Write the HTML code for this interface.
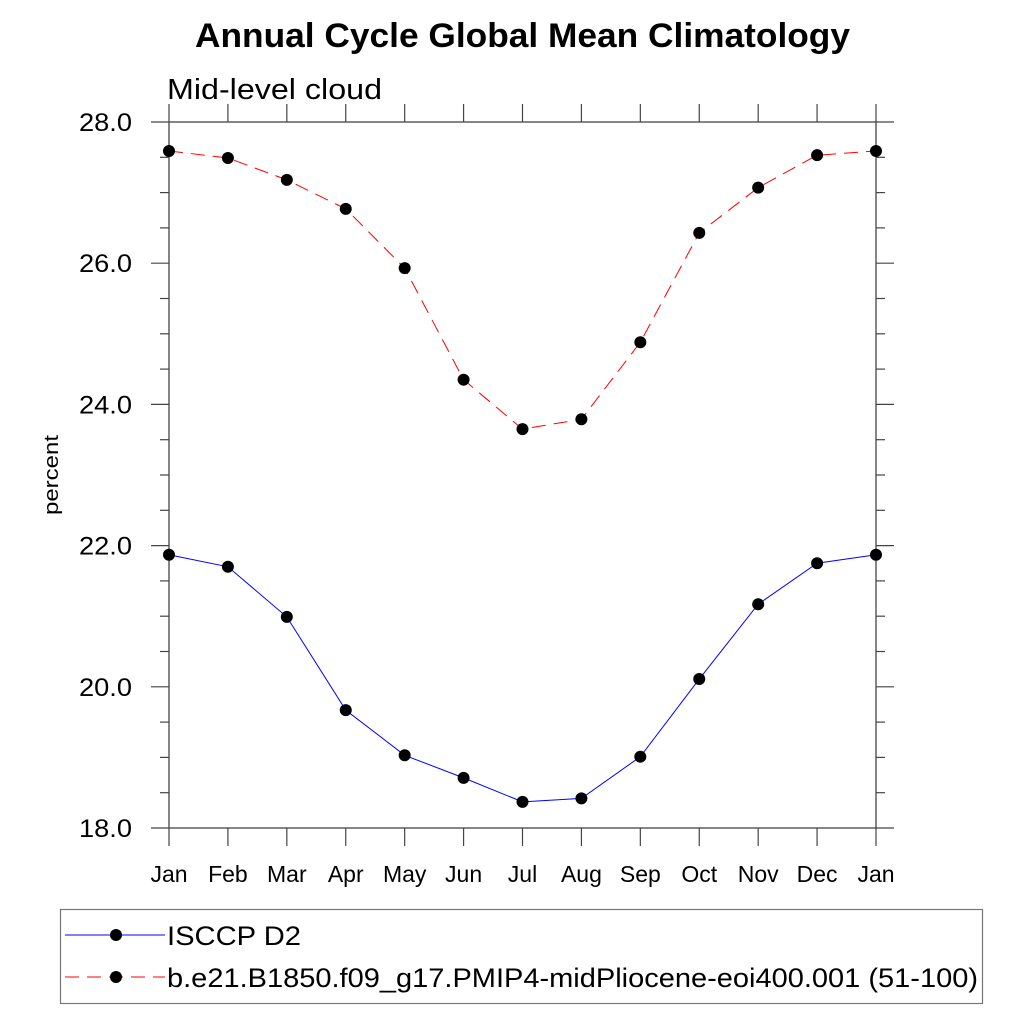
<!DOCTYPE html>
<html><head><meta charset="utf-8"><style>
body{margin:0;background:#fff;}
svg{display:block;font-family:"Liberation Sans",sans-serif;}
</style></head><body>
<svg id="chart" width="1024" height="1024">
<text x="195" y="47" font-size="34" font-weight="bold" textLength="655" lengthAdjust="spacingAndGlyphs">Annual Cycle Global Mean Climatology</text>
<text x="167" y="99" font-size="29" textLength="215" lengthAdjust="spacingAndGlyphs">Mid-level cloud</text>
<text transform="translate(58,475) rotate(-90)" text-anchor="middle" font-size="20" textLength="80" lengthAdjust="spacingAndGlyphs">percent</text>
<g id="axes"></g>
<g id="series"></g>
<rect x="60.5" y="909.5" width="922" height="94" fill="none" stroke="#777" stroke-width="1.2"/>
<g>
<line x1="65" y1="935" x2="165" y2="935" stroke="#0000ff" stroke-width="1"/>
<circle cx="116" cy="935" r="6" fill="#000"/>
<text x="167" y="945" font-size="27" textLength="134" lengthAdjust="spacingAndGlyphs">ISCCP D2</text>
</g>
<g>
<line x1="65" y1="977" x2="165" y2="977" stroke="#ff0000" stroke-width="1" stroke-dasharray="14,8"/>
<circle cx="116" cy="977" r="6" fill="#000"/>
<text x="167" y="987" font-size="27" textLength="811" lengthAdjust="spacingAndGlyphs">b.e21.B1850.f09_g17.PMIP4-midPliocene-eoi400.001 (51-100)</text>
</g>
</svg>
<script>
const months=["Jan","Feb","Mar","Apr","May","Jun","Jul","Aug","Sep","Oct","Nov","Dec","Jan"];
const isccp=[21.87,21.70,20.99,19.67,19.03,18.71,18.37,18.42,19.01,20.11,21.17,21.75,21.87];
const model=[27.59,27.49,27.18,26.77,25.93,24.35,23.65,23.79,24.88,26.43,27.07,27.53,27.59];
const yTicks=[18,20,22,24,26,28];
const yTickLabels=["18.0","20.0","22.0","24.0","26.0","28.0"];
const X0=169,X1=876,Y0=828,Y1=122,ymin=18,ymax=28;
const xs=i=>X0+(X1-X0)*i/(months.length-1);
const ys=v=>Y0-(Y0-Y1)*(v-ymin)/(ymax-ymin);
const NS="http://www.w3.org/2000/svg";
function mk(tag,attrs,parent){const e=document.createElementNS(NS,tag);for(const k in attrs)e.setAttribute(k,attrs[k]);parent.appendChild(e);return e;}
const ax=document.getElementById('axes');
const frame=mk('rect',{x:X0,y:Y1,width:X1-X0,height:Y0-Y1,fill:'none',stroke:'#444','stroke-width':1.3},ax);


for(let v=18;v<=28.001;v+=0.5){
  const major=Math.abs(v/2-Math.round(v/2))<1e-6;const L=major?18:9;const y=ys(v);
  mk('line',{x1:X0-L,y1:y,x2:X0,y2:y,stroke:'#444','stroke-width':1.2},ax);
  mk('line',{x1:X1,y1:y,x2:X1+L,y2:y,stroke:'#444','stroke-width':1.2},ax);
}
yTicks.forEach((v,i)=>{
  const t=mk('text',{x:X0-37,y:ys(v)+9,'text-anchor':'end','font-size':25,textLength:53,lengthAdjust:'spacingAndGlyphs'},ax);
  t.textContent=yTickLabels[i];
  
  
});
months.forEach((m,i)=>{
  const x=xs(i);
  mk('line',{x1:x,y1:Y0,x2:x,y2:Y0+18,stroke:'#444','stroke-width':1.2},ax);
  mk('line',{x1:x,y1:Y1-18,x2:x,y2:Y1,stroke:'#444','stroke-width':1.2},ax);
  const t=mk('text',{x:x,y:882,'text-anchor':'middle','font-size':23},ax);
  t.textContent=m;
  
  
});
const sg=document.getElementById('series');
function series(vals,color,dash,name){
  const p=mk('polyline',{points:vals.map((v,i)=>xs(i)+','+ys(v)).join(' '),fill:'none',stroke:color,'stroke-width':1,'stroke-dasharray':dash},sg);
  
  
  vals.forEach((v,i)=>{
    const c=mk('circle',{cx:xs(i),cy:ys(v),r:6,fill:'#000'},sg);
    
    
  });
}
series(model,'#ff0000','14,8','model');
series(isccp,'#0000ff','none','isccp');
</script>
</body></html>
